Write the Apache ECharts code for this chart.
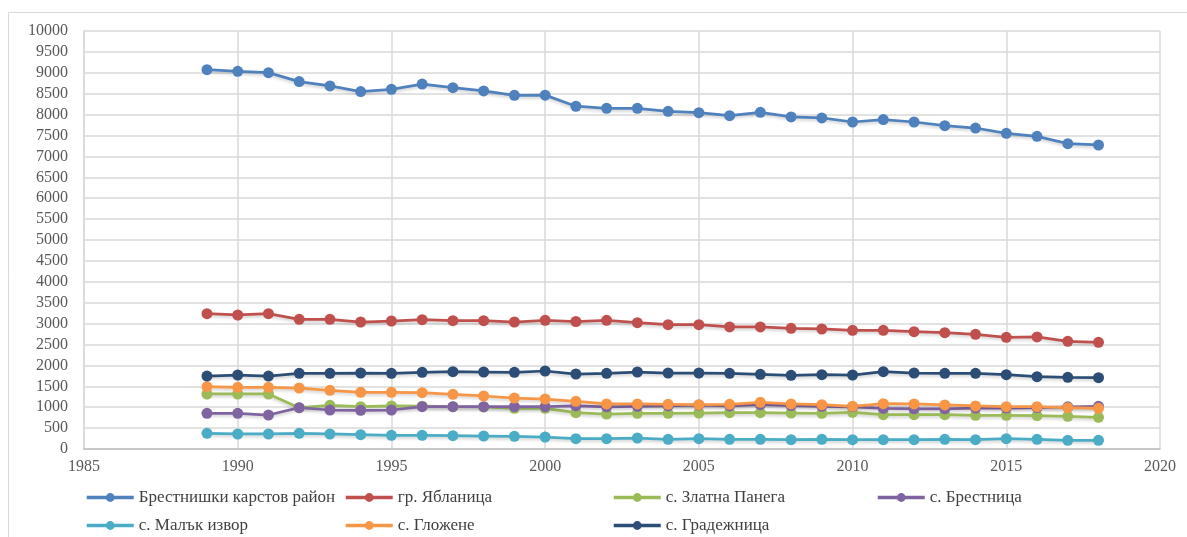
<!DOCTYPE html>
<html>
<head>
<meta charset="utf-8">
<script src="https://cdn.jsdelivr.net/npm/echarts@6/dist/echarts.min.js"></script>
<style>
  html, body { margin: 0; padding: 0; background: #ffffff; }
  #chart { width: 1187px; height: 537px; }
</style>
</head>
<body>
<div id="chart"></div>
<script>
// Population by settlement, 1989–2018
const years = [1989, 1990, 1991, 1992, 1993, 1994, 1995, 1996, 1997, 1998,
               1999, 2000, 2001, 2002, 2003, 2004, 2005, 2006, 2007, 2008,
               2009, 2010, 2011, 2012, 2013, 2014, 2015, 2016, 2017, 2018];

const seriesNames = [
  'Брестнишки карстов район',
  'гр. Ябланица',
  'с. Златна Панега',
  'с. Брестница',
  'с. Малък извор',
  'с. Гложене',
  'с. Градежница'
];

const brestnishkiRegion = [9075, 9035, 9003, 8790, 8685, 8550, 8605, 8730, 8645, 8565,
                           8460, 8465, 8200, 8150, 8150, 8078, 8046, 7975, 8055, 7943,
                           7919, 7823, 7880, 7823, 7736, 7679, 7552, 7480, 7305, 7273];
const yablanitsa = [3237, 3206, 3237, 3102, 3102, 3038, 3062, 3094, 3070, 3070,
                    3038, 3078, 3050, 3078, 3022, 2975, 2975, 2919, 2919, 2887,
                    2871, 2839, 2839, 2807, 2783, 2743, 2672, 2680, 2576, 2552];
const zlatnaPanega = [1316, 1316, 1316, 989, 1045, 1013, 1029, 1025, 1013, 1005,
                      973, 973, 869, 837, 853, 853, 861, 869, 869, 861,
                      853, 877, 821, 821, 821, 805, 805, 797, 781, 757];
const brestnitsa = [853, 853, 813, 989, 933, 925, 933, 1013, 1013, 1013,
                    1013, 1013, 1030, 1010, 1020, 1030, 1050, 1030, 1060, 1040,
                    1020, 1010, 970, 960, 960, 980, 980, 990, 1010, 1020];
const malakIzvor = [375, 359, 359, 375, 359, 343, 327, 327, 319, 311,
                    303, 287, 247, 247, 263, 231, 247, 231, 231, 223,
                    231, 223, 223, 223, 231, 223, 247, 231, 207, 207];
const glozhene = [1491, 1475, 1475, 1459, 1403, 1355, 1355, 1347, 1307, 1268,
                  1220, 1196, 1140, 1077, 1077, 1069, 1061, 1069, 1116, 1077,
                  1061, 1021, 1085, 1077, 1053, 1029, 1013, 1013, 989, 973];
const gradezhnitsa = [1746, 1770, 1746, 1810, 1810, 1818, 1810, 1834, 1850, 1842,
                      1834, 1866, 1794, 1810, 1842, 1818, 1818, 1810, 1786, 1762,
                      1778, 1770, 1850, 1818, 1810, 1810, 1778, 1730, 1714, 1706];

const seriesValues = [brestnishkiRegion, yablanitsa, zlatnaPanega, brestnitsa,
                      malakIzvor, glozhene, gradezhnitsa];
const seriesColors = ['#4F81BD', '#C0504D', '#9BBB59', '#8064A2', '#4BACC6', '#F79646', '#2C4D75'];

const xTicks = { min: 1985, max: 2020, step: 5 };
const yTicks = { min: 0, max: 10000, step: 500 };

const textFont = '"Liberation Serif", "Times New Roman", serif';
const gridColor = '#d9d9d9';

// Legend slots: two rows, four columns
const legendCols = [85, 344, 612, 876];
const legendRows = [489, 517];

const chart = echarts.init(document.getElementById('chart'), null, { renderer: 'canvas' });

const legends = seriesNames.map((name, i) => ({
  data: [name],
  left: legendCols[i % 4],
  top: legendRows[Math.floor(i / 4)],
  itemWidth: 47,
  itemHeight: 11,
  itemGap: 0,
  padding: 0,
  lineStyle: { width: 3.5 },
  textStyle: { fontFamily: textFont, fontSize: 17, color: '#404040' }
}));

chart.setOption({
  animation: false,
  backgroundColor: '#ffffff',
  color: seriesColors,
  graphic: [{
    type: 'rect',
    shape: { x: 8.5, y: 12.5, width: 1200, height: 600 },
    style: { fill: 'none', stroke: gridColor, lineWidth: 1 },
    silent: true
  }],
  legend: legends,
  grid: { left: 84, right: 27, top: 31, bottom: 88, containLabel: false },
  xAxis: {
    type: 'value',
    min: xTicks.min,
    max: xTicks.max,
    interval: xTicks.step,
    axisLine: { show: true, lineStyle: { color: '#bfbfbf', width: 1.5 } },
    axisTick: { show: false },
    splitLine: { show: true, lineStyle: { color: gridColor, width: 1.5 } },
    axisLabel: { fontFamily: textFont, fontSize: 16, color: '#595959', margin: 10,
                 formatter: v => String(v) }
  },
  yAxis: {
    type: 'value',
    min: yTicks.min,
    max: yTicks.max,
    interval: yTicks.step,
    axisLine: { show: true, lineStyle: { color: gridColor, width: 1.5 } },
    axisTick: { show: false },
    splitLine: { show: true, lineStyle: { color: gridColor, width: 1.5 } },
    axisLabel: { fontFamily: textFont, fontSize: 16, color: '#595959', margin: 16,
                 formatter: v => String(v) }
  },
  series: seriesNames.map((name, i) => ({
    name: name,
    type: 'line',
    data: years.map((y, k) => [y, seriesValues[i][k]]),
    symbol: 'circle',
    symbolSize: 11,
    lineStyle: {
      width: 2.75,
      color: seriesColors[i],
      shadowColor: 'rgba(0,0,0,0.18)',
      shadowBlur: 3,
      shadowOffsetY: 2
    },
    itemStyle: { color: seriesColors[i] }
  }))
});
</script>
</body>
</html>
